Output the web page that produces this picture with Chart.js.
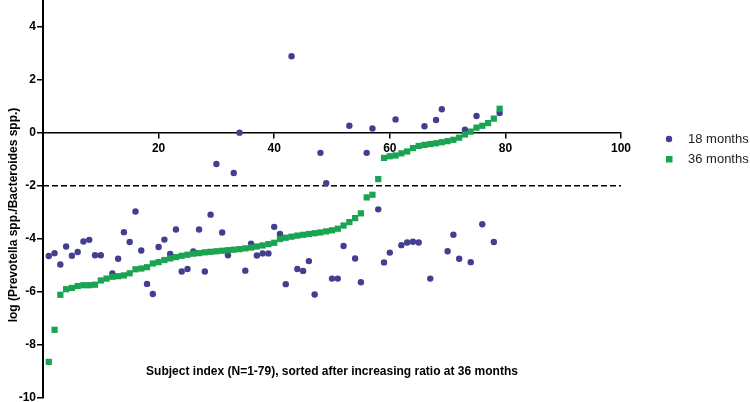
<!DOCTYPE html>
<html>
<head>
<meta charset="utf-8">
<script src="https://cdn.jsdelivr.net/npm/chart.js@4.4.1/dist/chart.umd.min.js"></script>
<style>
  html, body { margin: 0; padding: 0; background: #fff; }
  #wrap { width: 750px; height: 402px; }
</style>
</head>
<body>
<div id="wrap"><canvas id="ratioChart" width="750" height="402"></canvas></div>
<script>
// values, subjects 1..79 (sorted by the 36 month ratio)
const months36 = [
  -8.64, -7.43, -6.11, -5.90, -5.85, -5.78, -5.75, -5.75, -5.73, -5.57,
  -5.50, -5.43, -5.41, -5.38, -5.30, -5.15, -5.12, -5.07, -4.93, -4.88,
  -4.80, -4.74, -4.69, -4.64, -4.60, -4.56, -4.54, -4.51, -4.49, -4.47,
  -4.45, -4.43, -4.41, -4.39, -4.36, -4.33, -4.29, -4.25, -4.20, -4.15,
  -4.01, -3.96, -3.92, -3.88, -3.85, -3.82, -3.79, -3.76, -3.72, -3.68,
  -3.62, -3.50, -3.37, -3.22, -3.04, -2.44, -2.34, -1.75, -0.95, -0.89,
  -0.86, -0.78, -0.71, -0.58, -0.50, -0.46, -0.43, -0.40, -0.36, -0.32,
  -0.27, -0.19, -0.07, 0.04, 0.19, 0.26, 0.36, 0.53, 0.90
];
const months18 = [
  -4.65, -4.54, -4.97, -4.29, -4.64, -4.50, -4.10, -4.04, -4.62, -4.62,
  null, -5.31, -4.75, -3.75, -4.12, -2.97, -4.44, -5.70, -6.08, -4.31,
  -4.03, -4.57, -3.65, -5.23, -5.14, -4.48, -3.65, -5.23, -3.09, -1.18,
  -3.76, -4.62, -1.52, 0.00, -5.20, -4.18, -4.63, -4.55, -4.55, -3.55,
  -3.82, -5.71, 2.88, -5.14, -5.21, -4.84, -6.10, -0.76, -1.90, -5.50,
  -5.50, -4.27, 0.26, -4.74, -5.64, -0.76, 0.16, -2.89, -4.89, -4.52,
  0.50, -4.24, -4.14, -4.11, -4.14, 0.24, -5.50, 0.48, 0.88, -4.47,
  -3.85, -4.75, 0.11, -4.88, 0.63, -3.45, null, -4.12, 0.74
];
const seriesNames = ['18 months', '36 months'];
const xTicks = [20, 40, 60, 80, 100];
const yTicks = [-10, -8, -6, -4, -2, 0, 2, 4];
const cutoff = -2;

const purple = '#433f8e';
const green = '#1aa350';
const tickFont = { family: 'Liberation Sans', size: 12, weight: 'bold' };

function toPoints(values) {
  return values.map((v, i) => ({ x: i + 1, y: v }));
}

// dashed threshold line, axis titles and the legend
const extras = {
  id: 'extras',
  beforeDatasetsDraw(chart) {
    const { ctx, chartArea, scales: { x, y } } = chart;
    const py = y.getPixelForValue(cutoff);
    ctx.save();
    ctx.strokeStyle = '#000';
    ctx.lineWidth = 1.5;
    ctx.setLineDash([6, 3]);
    ctx.beginPath();
    ctx.moveTo(chartArea.left, py);
    ctx.lineTo(x.getPixelForValue(100), py);
    ctx.stroke();
    ctx.restore();
  },
  afterDraw(chart) {
    const { ctx, chartArea } = chart;
    ctx.save();
    ctx.fillStyle = '#000';
    ctx.textAlign = 'center';
    ctx.textBaseline = 'middle';
    ctx.font = 'bold 12px "Liberation Sans"';
    ctx.fillText('Subject index (N=1-79), sorted after increasing ratio at 36 months',
      (chartArea.left + chartArea.right) / 2, 372);

    ctx.translate(14, 215);
    ctx.rotate(-Math.PI / 2);
    ctx.font = 'bold 12px "Liberation Sans"';
    ctx.fillText('log (Prevotella spp./Bacteroides spp.)', 0, 0);
    ctx.restore();

    // legend
    ctx.save();
    ctx.fillStyle = purple;
    ctx.beginPath();
    ctx.arc(669, 139, 3.2, 0, Math.PI * 2);
    ctx.fill();
    ctx.fillStyle = green;
    ctx.fillRect(666, 156, 6.5, 6.5);
    ctx.fillStyle = '#222';
    ctx.font = '13px "Liberation Sans"';
    ctx.textAlign = 'left';
    ctx.textBaseline = 'middle';
    ctx.fillText(seriesNames[0], 688, 139);
    ctx.fillText(seriesNames[1], 688, 159);
    ctx.restore();
  }
};

new Chart(document.getElementById('ratioChart'), {
  type: 'scatter',
  data: {
    datasets: [
      {
        label: seriesNames[0],
        data: toPoints(months18),
        pointStyle: 'circle',
        pointRadius: 3.2,
        pointHoverRadius: 3.2,
        borderWidth: 0,
        backgroundColor: purple,
        order: 2
      },
      {
        label: seriesNames[1],
        data: toPoints(months36),
        pointStyle: 'rect',
        pointRadius: 4.4,
        pointHoverRadius: 4.4,
        borderWidth: 0,
        backgroundColor: green,
        order: 1
      }
    ]
  },
  options: {
    responsive: false,
    animation: false,
    layout: { autoPadding: false, padding: { left: 0, right: 129, top: 0, bottom: 4 } },
    plugins: { legend: { display: false }, tooltip: { enabled: false } },
    scales: {
      x: {
        type: 'linear',
        min: 0,
        max: 100,
        position: { y: 0 },
        afterBuildTicks: s => { s.ticks = xTicks.map(v => ({ value: v })); },
        afterFit: s => { s.height = 0; s.paddingLeft = 0; s.paddingRight = 0; },
        ticks: { color: '#000', font: tickFont, padding: 4, maxRotation: 0 },
        grid: { drawOnChartArea: false, drawTicks: true, tickLength: 5, color: '#000', lineWidth: 1.5 },
        border: { display: true, color: '#000', width: 1.5 }
      },
      y: {
        type: 'linear',
        min: -10,
        max: 5,
        afterBuildTicks: s => { s.ticks = yTicks.map(v => ({ value: v })); },
        afterFit: s => { s.width = 43; s.paddingTop = 0; s.paddingBottom = 0; },
        ticks: { color: '#000', font: tickFont, padding: 1 },
        grid: { drawOnChartArea: false, drawTicks: true, tickLength: 6, color: '#000', lineWidth: 1.5 },
        border: { display: true, color: '#000', width: 2 }
      }
    }
  },
  plugins: [extras]
});
</script>
</body>
</html>
